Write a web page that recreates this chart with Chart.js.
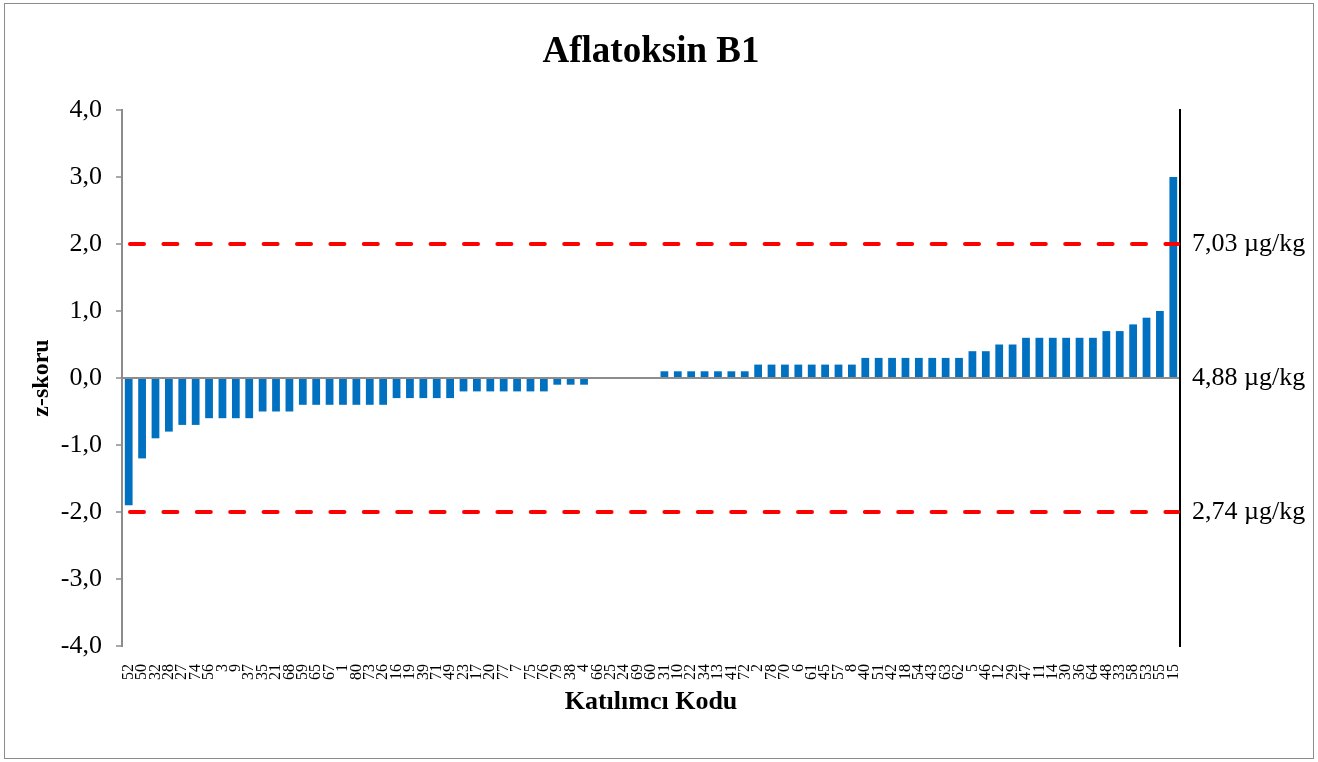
<!DOCTYPE html>
<html>
<head>
<meta charset="utf-8">
<title>Aflatoksin B1</title>
<script src="https://cdn.jsdelivr.net/npm/chart.js@4"></script>
<style>
  html, body { margin: 0; padding: 0; background: #fff; }
  canvas { display: block; }
</style>
</head>
<body>
<canvas id="zChart" width="1318" height="762"></canvas>
<script>
// participant codes, sorted by z-score
const codes = [
  '52', '50', '32', '28', '27', '74', '56', '3', '9', '37',
  '35', '21', '68', '59', '65', '67', '1', '80', '73', '26',
  '16', '19', '39', '71', '49', '23', '17', '20', '77', '7',
  '75', '76', '79', '38', '4', '66', '25', '24', '69', '60',
  '31', '10', '22', '34', '13', '41', '72', '2', '78', '70',
  '6', '61', '45', '57', '8', '40', '51', '42', '18', '54',
  '43', '63', '62', '5', '46', '12', '29', '47', '11', '14',
  '30', '36', '64', '48', '33', '58', '53', '55', '15'
];

const zScores = [
  -1.9, -1.2, -0.9, -0.8, -0.7, -0.7, -0.6, -0.6, -0.6, -0.6,
  -0.5, -0.5, -0.5, -0.4, -0.4, -0.4, -0.4, -0.4, -0.4, -0.4,
  -0.3, -0.3, -0.3, -0.3, -0.3, -0.2, -0.2, -0.2, -0.2, -0.2,
  -0.2, -0.2, -0.1, -0.1, -0.1, 0.0, 0.0, 0.0, 0.0, 0.0,
  0.1, 0.1, 0.1, 0.1, 0.1, 0.1, 0.1, 0.2, 0.2, 0.2,
  0.2, 0.2, 0.2, 0.2, 0.2, 0.3, 0.3, 0.3, 0.3, 0.3,
  0.3, 0.3, 0.3, 0.4, 0.4, 0.5, 0.5, 0.6, 0.6, 0.6,
  0.6, 0.6, 0.6, 0.7, 0.7, 0.8, 0.9, 1.0, 3.0
];

// concentration equivalents shown on the right axis
const limitZ = [2, 0, -2];
const limitLabels = ['7,03 µg/kg', '4,88 µg/kg', '2,74 µg/kg'];
// |z| = 2 warning lines
const warnZ = [2, -2];

const yMin = -4, yMax = 4;

const SERIF = "'Liberation Serif', 'Times New Roman', serif";

// white page + thin frame round the whole chart
const frame = {
  id: 'frame',
  beforeDraw(chart) {
    const c = chart.ctx;
    c.save();
    c.fillStyle = '#fff';
    c.fillRect(0, 0, chart.width, chart.height);
    c.strokeStyle = '#8c8c8c';
    c.lineWidth = 1;
    c.strokeRect(4.5, 3.5, chart.width - 9, chart.height - 7);
    c.restore();
  }
};

// red dashed lines at z = +2 / -2
const warnLines = {
  id: 'warnLines',
  afterDatasetsDraw(chart) {
    const c = chart.ctx;
    const y = chart.scales.y;
    const { left, right } = chart.chartArea;
    c.save();
    c.strokeStyle = '#ff0000';
    c.lineWidth = 4;
    c.lineCap = 'round';
    c.setLineDash([14, 19.4]);
    warnZ.forEach(v => {
      const py = y.getPixelForValue(v);
      c.beginPath();
      c.moveTo(left + 8, py);
      c.lineTo(right - 2, py);
      c.stroke();
    });
    c.restore();
  }
};

new Chart(document.getElementById('zChart'), {
  type: 'bar',
  data: {
    labels: codes,
    datasets: [{
      data: zScores,
      backgroundColor: '#0070c0',
      borderWidth: 0,
      categoryPercentage: 1,
      barPercentage: 0.58,
    }],
  },
  options: {
    responsive: false,
    animation: false,
    devicePixelRatio: 1,
    layout: { padding: 0 },
    plugins: {
      legend: { display: false },
      tooltip: { enabled: false },
      title: {
        display: true,
        // centred over the plot area rather than the whole canvas
        fullSize: false,
        text: 'Aflatoksin B1',
        color: '#000',
        font: { family: SERIF, size: 37, weight: 'bold', lineHeight: 1.2 },
        padding: { top: 29.8, bottom: 35.8 },
      },
    },
    scales: {
      x: {
        grid: { display: false },
        border: { display: false },
        ticks: {
          autoSkip: false,
          minRotation: 90,
          maxRotation: 90,
          padding: 10,
          color: '#000',
          font: { family: SERIF, size: 16 },
        },
        title: {
          display: true,
          text: 'Katılımcı Kodu',
          color: '#000',
          font: { family: SERIF, size: 26, weight: 'bold', lineHeight: 1.2 },
          padding: { top: 0, bottom: 44.4 },
        },
        afterFit(scale) { scale.height = 116; },
      },
      y: {
        min: yMin,
        max: yMax,
        ticks: {
          stepSize: 1,
          padding: 14,
          color: '#000',
          font: { family: SERIF, size: 26 },
          callback: v => v.toFixed(1).replace('.', ','),
        },
        grid: {
          drawOnChartArea: true,
          drawTicks: true,
          tickLength: 6,
          lineWidth: 2,
          tickWidth: 1.5,
          tickColor: '#8c8c8c',
          color: ctx => (ctx.tick && ctx.tick.value === 0 ? '#8c8c8c' : 'rgba(0,0,0,0)'),
        },
        border: { display: true, color: '#8c8c8c', width: 2 },
        title: {
          display: true,
          text: 'z-skoru',
          color: '#000',
          font: { family: SERIF, size: 24, weight: 'bold', lineHeight: 1.2 },
          padding: { top: 27.6, bottom: 0 },
        },
        afterFit(scale) { scale.width = 122; },
      },
      y2: {
        position: 'right',
        min: yMin,
        max: yMax,
        grid: { display: false, drawTicks: false },
        border: { display: true, color: '#000', width: 2 },
        afterBuildTicks(scale) {
          scale.ticks = limitZ.map(v => ({ value: v }));
        },
        ticks: {
          padding: 12,
          color: '#000',
          font: { family: SERIF, size: 26 },
          callback: v => limitLabels[limitZ.indexOf(v)],
        },
        afterFit(scale) { scale.width = 138; },
      },
    },
  },
  plugins: [frame, warnLines],
});
</script>
</body>
</html>
